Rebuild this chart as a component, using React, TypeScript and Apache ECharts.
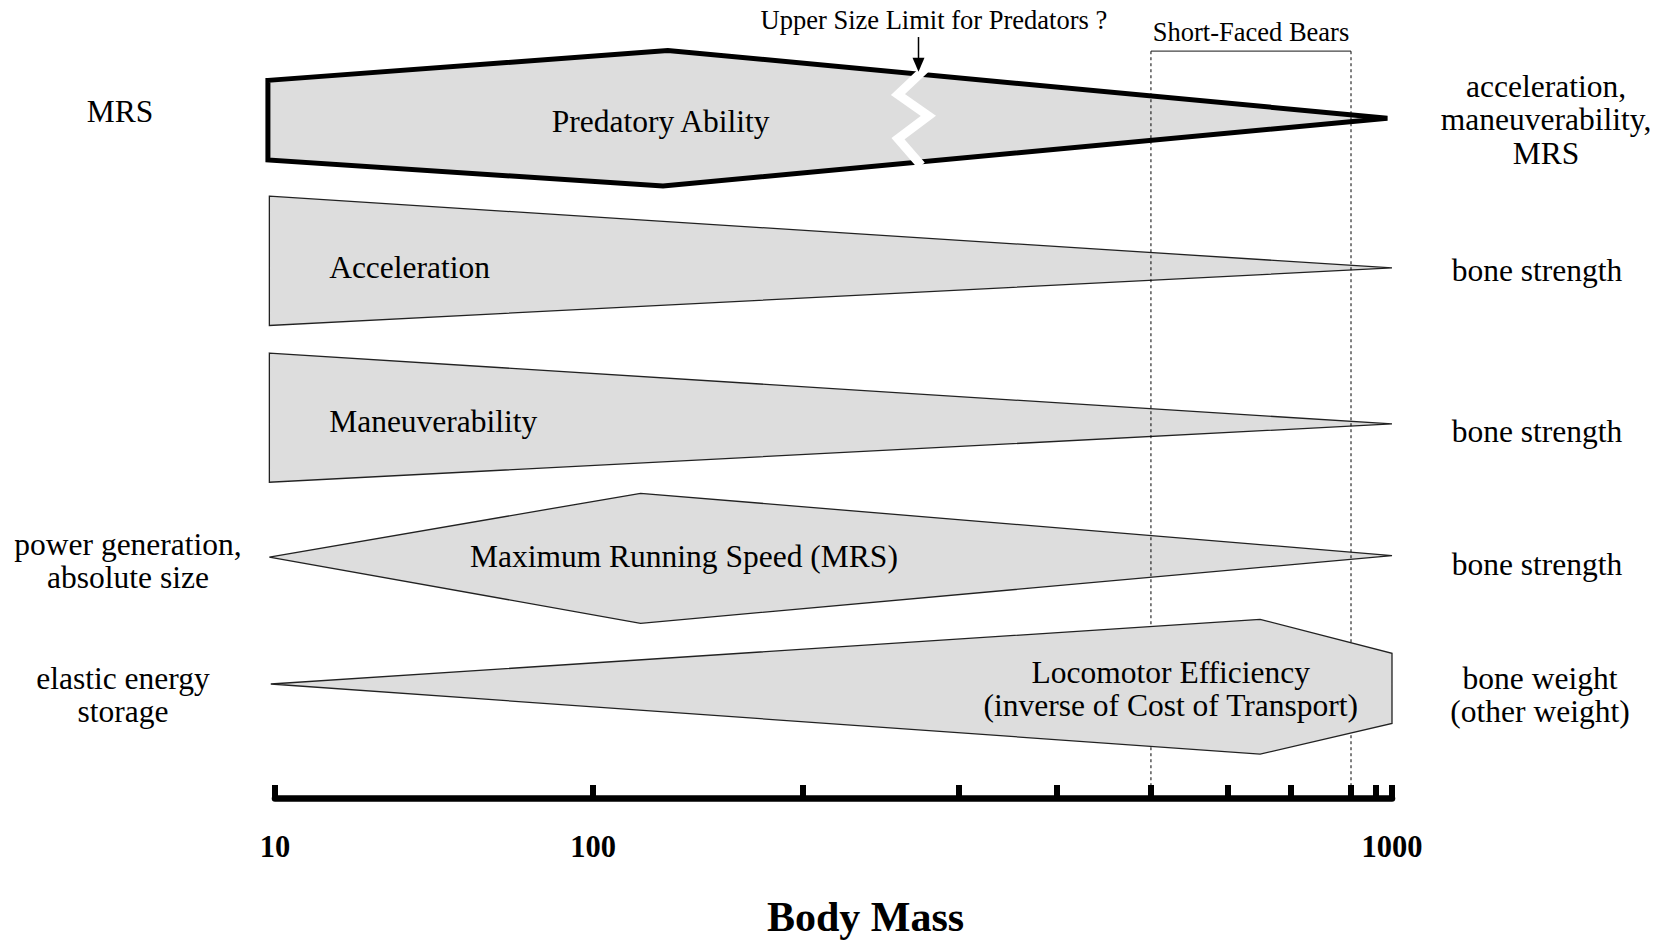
import React, { useEffect, useRef } from "react";
import * as echarts from "echarts";

// Hand-drawn body-mass scale of the original figure:
// tick masses and where each tick sits along the axis (% of axis length)
const tickMasses = [10, 100, 200, 300, 400, 500, 600, 700, 800, 900, 1000];
const tickPositions = [0, 28.47, 47.27, 61.24, 70.01, 78.42, 85.32, 90.96, 96.33, 98.57, 100];
const labelledMasses = [10, 100, 1000];

// Shape outlines: [body mass, vertical level (0 = top, 100 = axis)]
const predatoryAbility = [[9.5, 10.2], [128, 6.4], [970, 15.0], [126, 23.6], [9.5, 20.3]];
const acceleration = [[9.6, 24.9], [1000, 34.0], [9.6, 41.3]];
const maneuverability = [[9.6, 44.8], [1000, 53.8], [9.6, 61.2]];
const maxRunningSpeed = [[9.6, 70.7], [117, 62.6], [1000, 70.5], [117, 79.1]];
const locomotorEfficiency = [[9.7, 86.8], [649, 78.6], [1000, 82.9], [1000, 91.8], [649, 95.7]];

const shapeNames = [
  "Predatory Ability",
  "Acceleration",
  "Maneuverability",
  "Maximum Running Speed (MRS)",
  "Locomotor Efficiency\n(inverse of Cost of Transport)",
];
// where each shape's name sits: [body mass, level]
const shapeNameAnchors = [[125, 15.4], [14.8, 34.0], [14.8, 53.5], [135, 70.6], [524, 87.4]];
const shapeNameAlign = ["center", "left", "left", "center", "center"];

// factors limiting at the small (left) and large (right) end of each row
const leftNotes = ["MRS", "", "", "power generation,\nabsolute size", "elastic energy\nstorage"];
const leftNoteLevels = [14.1, 0, 0, 71.2, 88.2];
const rightNotes = [
  "acceleration,\nmaneuverability,\nMRS",
  "bone strength",
  "bone strength",
  "bone strength",
  "bone weight\n(other weight)",
];
const rightNoteLevels = [15.2, 34.3, 54.7, 71.6, 88.2];

// Short-faced bears mass range and predator size limit annotation
const bearsRange = [500, 800];
const bearsLabel = "Short-Faced Bears";
const bearsBracketLevel = 6.5;
const bearsLabelLevel = 4.0;
const predatorLimitMass = 270;
const predatorLimitLabel = "Upper Size Limit for Predators ?";
const predatorLimitLabelMass = 281;
const predatorLimitArrowLevels = [4.7, 9.1];
const predatorLimitLabelLevel = 2.5;
const breakZigzag = [[275, 8.7], [256, 12.0], [277, 14.7], [256, 17.6], [272, 21.0]];

const shapes = [predatoryAbility, acceleration, maneuverability, maxRunningSpeed, locomotorEfficiency];

const SERIF = "'Liberation Serif', 'Times New Roman', Times, serif";
const FILL = "#dddddd";

function massToPos(m: number): number {
  const n = tickMasses.length;
  let i = 0;
  while (i < n - 2 && m > tickMasses[i + 1]) i++;
  const a = Math.log10(tickMasses[i]);
  const b = Math.log10(tickMasses[i + 1]);
  const t = (Math.log10(m) - a) / (b - a);
  return tickPositions[i] + t * (tickPositions[i + 1] - tickPositions[i]);
}

// horizontal layout of the side notes (pixels)
const LEFT_NOTE_X = [120, 0, 0, 128, 123];
const RIGHT_NOTE_X = [1546, 1537, 1537, 1537, 1540];
const AXIS_OFFSET = 10;
const MINOR_TICK = 13;

function textEl(x: number, y: number, text: string, size: number, align: string, weight = "normal") {
  return {
    type: "text",
    x,
    y,
    style: {
      text,
      fill: "#000",
      fontSize: size,
      fontFamily: SERIF,
      fontWeight: weight,
      align,
      verticalAlign: "middle",
      lineHeight: size * 1.06,
    },
  };
}

function renderShape(_params: any, api: any) {
  const i = api.value(0) as number;
  const pts = shapes[i].map(([m, y]) => api.coord([massToPos(m), y]));
  const children: any[] = [
    {
      type: "polygon",
      shape: { points: pts },
      style: {
        fill: FILL,
        stroke: i === 0 ? "#000" : "#222",
        lineWidth: i === 0 ? 5 : 1.3,
        lineJoin: "miter",
      },
    },
  ];
  if (i === 0) {
    children.push({
      type: "polyline",
      shape: { points: breakZigzag.map(([m, y]) => api.coord([massToPos(m), y])) },
      style: { stroke: "#fff", lineWidth: 9, fill: "none", lineJoin: "miter" },
    });
  }
  const [lm, ly] = shapeNameAnchors[i];
  const lp = api.coord([massToPos(lm), ly]);
  children.push(textEl(lp[0], lp[1], shapeNames[i], 31.5, shapeNameAlign[i]));
  if (leftNotes[i]) {
    const p = api.coord([0, leftNoteLevels[i]]);
    children.push(textEl(LEFT_NOTE_X[i], p[1], leftNotes[i], 31.5, "center"));
  }
  if (rightNotes[i]) {
    const p = api.coord([0, rightNoteLevels[i]]);
    children.push(textEl(RIGHT_NOTE_X[i], p[1], rightNotes[i], 31.5, "center"));
  }
  return { type: "group", children };
}

function renderAnnotations(_params: any, api: any) {
  const children: any[] = [];
  const [b0, b1] = bearsRange;
  const top0 = api.coord([massToPos(b0), bearsBracketLevel]);
  const top1 = api.coord([massToPos(b1), bearsBracketLevel]);
  const bot0 = api.coord([massToPos(b0), 100]);
  const bot1 = api.coord([massToPos(b1), 100]);
  children.push({
    type: "line",
    shape: { x1: top0[0], y1: top0[1], x2: top1[0], y2: top1[1] },
    style: { stroke: "#444", lineWidth: 1.2 },
  });
  [[top0, bot0], [top1, bot1]].forEach(([a, b]) => {
    children.push({
      type: "line",
      shape: { x1: a[0], y1: a[1], x2: b[0], y2: b[1] + AXIS_OFFSET - MINOR_TICK },
      style: { stroke: "#000", lineWidth: 1, lineDash: [3, 3] },
    });
  });
  const bl = api.coord([Math.sqrt(b0 * b1), bearsLabelLevel]);
  const blx = (top0[0] + top1[0]) / 2;
  children.push(textEl(blx, bl[1], bearsLabel, 26.5, "center"));

  // predator limit arrow
  const a0 = api.coord([massToPos(predatorLimitMass), predatorLimitArrowLevels[0]]);
  const a1 = api.coord([massToPos(predatorLimitMass), predatorLimitArrowLevels[1]]);
  children.push({
    type: "line",
    shape: { x1: a0[0], y1: a0[1], x2: a1[0], y2: a1[1] - 10 },
    style: { stroke: "#000", lineWidth: 1.5 },
  });
  children.push({
    type: "polygon",
    shape: {
      points: [
        [a1[0] - 6, a1[1] - 14],
        [a1[0] + 6, a1[1] - 14],
        [a1[0], a1[1]],
      ],
    },
    style: { fill: "#000" },
  });
  const tl = api.coord([massToPos(predatorLimitLabelMass), predatorLimitLabelLevel]);
  children.push(textEl(tl[0], tl[1], predatorLimitLabel, 26.5, "center"));
  return { type: "group", children };
}

export default function App() {
  const ref = useRef<HTMLDivElement>(null);
  useEffect(() => {
    document.body.style.margin = "0";
    const chart = echarts.init(ref.current!, undefined, { renderer: "svg" });
    const labelPositions = labelledMasses.map(massToPos);
    const option: any = {
      animation: false,
      backgroundColor: "#ffffff",
      grid: { left: 275, right: 273, top: 0, bottom: 149, containLabel: false },
      xAxis: [
        {
          type: "value",
          min: 0,
          max: 100,
          position: "bottom",
          offset: AXIS_OFFSET,
          axisLine: { show: true, onZero: false, lineStyle: { color: "#000", width: 6.5 } },
          axisTick: {
            show: true,
            inside: true,
            length: MINOR_TICK,
            customValues: tickMasses.map(massToPos),
            lineStyle: { color: "#000", width: 6 },
          },
          axisLabel: {
            show: true,
            customValues: labelPositions,
            margin: 34,
            color: "#000",
            fontFamily: SERIF,
            fontWeight: "bold",
            fontSize: 30.5,
            lineHeight: 30.5,
            formatter: (v: number) => {
              const k = labelPositions.findIndex((p) => Math.abs(p - v) < 1e-6);
              return k >= 0 ? String(labelledMasses[k]) : "";
            },
          },
          splitLine: { show: false },
          name: "Body Mass",
          nameLocation: "middle",
          nameGap: 98,
          nameTextStyle: {
            color: "#000",
            fontFamily: SERIF,
            fontWeight: "bold",
            fontSize: 42,
            padding: [0, 0, 0, 64],
          },
        },
        {
          type: "value",
          min: 0,
          max: 100,
          position: "bottom",
          offset: AXIS_OFFSET,
          axisLine: { show: false },
          axisTick: {
            show: true,
            inside: true,
            length: 24,
            customValues: [massToPos(tickMasses[0]), massToPos(tickMasses[tickMasses.length - 1])],
            lineStyle: { color: "#000", width: 6.5 },
          },
          axisLabel: { show: false },
          splitLine: { show: false },
        },
      ],
      yAxis: { type: "value", min: 0, max: 100, inverse: true, show: false },
      series: [
        {
          type: "custom",
          name: "shapes",
          z: 2,
          silent: true,
          renderItem: renderShape,
          data: [[0], [1], [2], [3]],
        },
        {
          type: "custom",
          name: "annotations",
          z: 3,
          silent: true,
          renderItem: renderAnnotations,
          data: [[0]],
        },
        {
          type: "custom",
          name: "locomotor",
          z: 4,
          silent: true,
          renderItem: renderShape,
          data: [[4]],
        },
      ],
    };
    chart.setOption(option);
    return () => chart.dispose();
  }, []);
  return <div ref={ref} style={{ width: 1665, height: 943 }} />;
}
